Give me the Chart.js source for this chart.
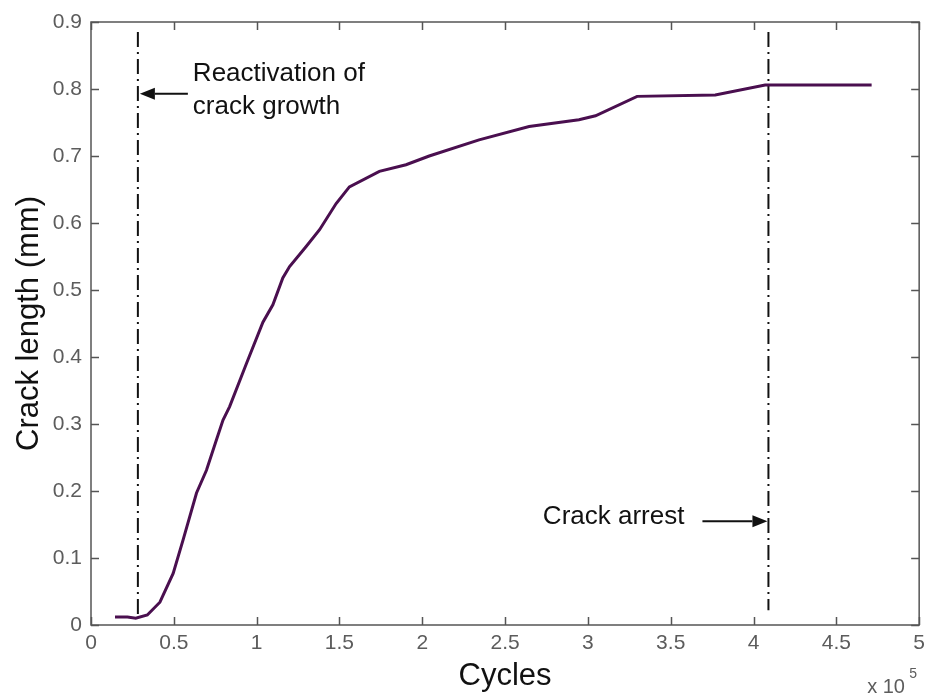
<!DOCTYPE html>
<html>
<head>
<meta charset="utf-8">
<script src="https://cdn.jsdelivr.net/npm/chart.js@4/dist/chart.umd.min.js"></script>
<style>
  html, body { margin: 0; padding: 0; background: #fff; }
  #wrap { width: 931px; height: 696px; }
</style>
</head>
<body>
<div id="wrap"><canvas id="crack"></canvas></div>
<script>
// Crack length vs. load cycles
const cycles = [14500, 22000, 27000, 34000, 41600, 49600, 55600, 63700, 69700, 75700, 79700,
  83700, 93800, 103800, 109800, 115800, 119900, 129900, 138000, 148000, 156000,
  174100, 190200, 204200, 234300, 264500, 294600, 304600, 329700, 376900, 407000, 471300]
const crackLength = [0.012, 0.012, 0.010, 0.015, 0.034, 0.077, 0.127, 0.197, 0.231, 0.276, 0.306,
  0.326, 0.390, 0.452, 0.478, 0.518, 0.535, 0.565, 0.590, 0.629, 0.654,
  0.677, 0.687, 0.700, 0.724, 0.744, 0.754, 0.760, 0.789, 0.791, 0.806, 0.806]

// dash-dot marker lines
const reactivationCycles = 28300
const arrestCycles = 409000
const reactivationSpan = [0.885, 0.015]
const arrestSpan = [0.885, 0.022]

const xTicks = [0, 0.5, 1, 1.5, 2, 2.5, 3, 3.5, 4, 4.5, 5]
const yTicks = [0, 0.1, 0.2, 0.3, 0.4, 0.5, 0.6, 0.7, 0.8, 0.9]

const FONT = "'Liberation Sans', Arial, Helvetica, sans-serif"
const AXIS_COLOR = "#555"
const LABEL_COLOR = "#5c5c5c"

// box with inward ticks on all four sides (MATLAB style)
const boxPlugin = {
  id: "box",
  afterDraw(chart) {
    const { ctx, chartArea: a, scales: { x, y } } = chart
    const len = 8
    ctx.save()
    ctx.strokeStyle = AXIS_COLOR
    ctx.lineWidth = 1.5
    ctx.strokeRect(a.left, a.top, a.right - a.left, a.bottom - a.top)
    ctx.beginPath()
    x.ticks.forEach((t) => {
      const px = Math.round(x.getPixelForValue(t.value)) + 0.5
      ctx.moveTo(px, a.bottom); ctx.lineTo(px, a.bottom - len)
      ctx.moveTo(px, a.top); ctx.lineTo(px, a.top + len)
    })
    y.ticks.forEach((t) => {
      const py = Math.round(y.getPixelForValue(t.value)) + 0.5
      ctx.moveTo(a.left, py); ctx.lineTo(a.left + len, py)
      ctx.moveTo(a.right, py); ctx.lineTo(a.right - len, py)
    })
    ctx.stroke()

    // exponent of the x axis
    ctx.fillStyle = LABEL_COLOR
    ctx.textBaseline = "middle"
    ctx.textAlign = "left"
    ctx.font = `20px ${FONT}`
    ctx.fillText("x 10", a.right - 52, 687)
    ctx.font = `14px ${FONT}`
    ctx.fillText("5", a.right - 10, 674)
    ctx.restore()
  }
}

function arrow(ctx, fromX, toX, yy) {
  const dir = toX > fromX ? 1 : -1
  const head = 15
  ctx.beginPath()
  ctx.moveTo(fromX, yy)
  ctx.lineTo(toX - dir * head, yy)
  ctx.stroke()
  ctx.beginPath()
  ctx.moveTo(toX, yy)
  ctx.lineTo(toX - dir * head, yy - 6)
  ctx.lineTo(toX - dir * head, yy + 6)
  ctx.closePath()
  ctx.fill()
}

// text callouts pointing at the marker lines
const notesPlugin = {
  id: "notes",
  afterDraw(chart) {
    const { ctx, scales: { x, y } } = chart
    ctx.save()
    ctx.fillStyle = "#111"
    ctx.strokeStyle = "#111"
    ctx.lineWidth = 2
    ctx.font = `26px ${FONT}`
    ctx.textBaseline = "middle"

    const rx = x.getPixelForValue(reactivationCycles) + 2
    const ry = y.getPixelForValue(0.793)
    arrow(ctx, rx + 48, rx, ry)
    ctx.textAlign = "left"
    ctx.fillText("Reactivation of", rx + 53, ry - 20)
    ctx.fillText("crack growth", rx + 53, ry + 13)

    const ax = x.getPixelForValue(arrestCycles) - 1
    const ay = y.getPixelForValue(0.155)
    arrow(ctx, ax - 65, ax, ay)
    ctx.textAlign = "right"
    ctx.fillText("Crack arrest", ax - 83, ay - 4)
    ctx.restore()
  }
}

const points = cycles.map((c, i) => ({ x: c, y: crackLength[i] }))
const dashDot = [15, 5, 2, 5]

new Chart(document.getElementById("crack"), {
  type: "line",
  data: {
    datasets: [
      {
        data: points,
        borderColor: "#4a0f4f",
        borderWidth: 3,
        pointRadius: 0,
        tension: 0
      },
      {
        data: reactivationSpan.map((v) => ({ x: reactivationCycles, y: v })),
        borderColor: "#111",
        borderWidth: 2,
        borderDash: dashDot,
        pointRadius: 0
      },
      {
        data: arrestSpan.map((v) => ({ x: arrestCycles, y: v })),
        borderColor: "#111",
        borderWidth: 2,
        borderDash: dashDot,
        pointRadius: 0
      }
    ]
  },
  options: {
    responsive: true,
    maintainAspectRatio: false,
    animation: false,
    layout: { padding: { left: 0, top: 22, right: 8, bottom: 0 } },
    plugins: { legend: { display: false }, tooltip: { enabled: false } },
    scales: {
      x: {
        type: "linear",
        min: 0,
        max: 500000,
        afterBuildTicks: (s) => { s.ticks = xTicks.map((v) => ({ value: v * 1e5 })) },
        afterFit: (s) => { s.height = 71 },
        grid: { display: false, drawTicks: false },
        border: { display: false },
        ticks: {
          color: LABEL_COLOR,
          padding: 6,
          maxRotation: 0,
          font: { family: FONT, size: 21 },
          callback: (v) => String(+(v / 1e5).toFixed(1))
        },
        title: {
          display: true,
          text: "Cycles",
          color: "#111",
          padding: { top: 0, bottom: 1 },
          font: { family: FONT, size: 31 }
        }
      },
      y: {
        type: "linear",
        min: 0,
        max: 0.9,
        afterBuildTicks: (s) => { s.ticks = yTicks.map((v) => ({ value: v })) },
        afterFit: (s) => { s.width = 91 },
        grid: { display: false, drawTicks: false },
        border: { display: false },
        ticks: {
          color: LABEL_COLOR,
          padding: 9,
          font: { family: FONT, size: 21 },
          callback: (v) => String(+v.toFixed(1))
        },
        title: {
          display: true,
          text: "Crack length (mm)",
          color: "#111",
          padding: { top: 11, bottom: 0 },
          font: { family: FONT, size: 31 }
        }
      }
    }
  },
  plugins: [boxPlugin, notesPlugin]
})
</script>
</body>
</html>
